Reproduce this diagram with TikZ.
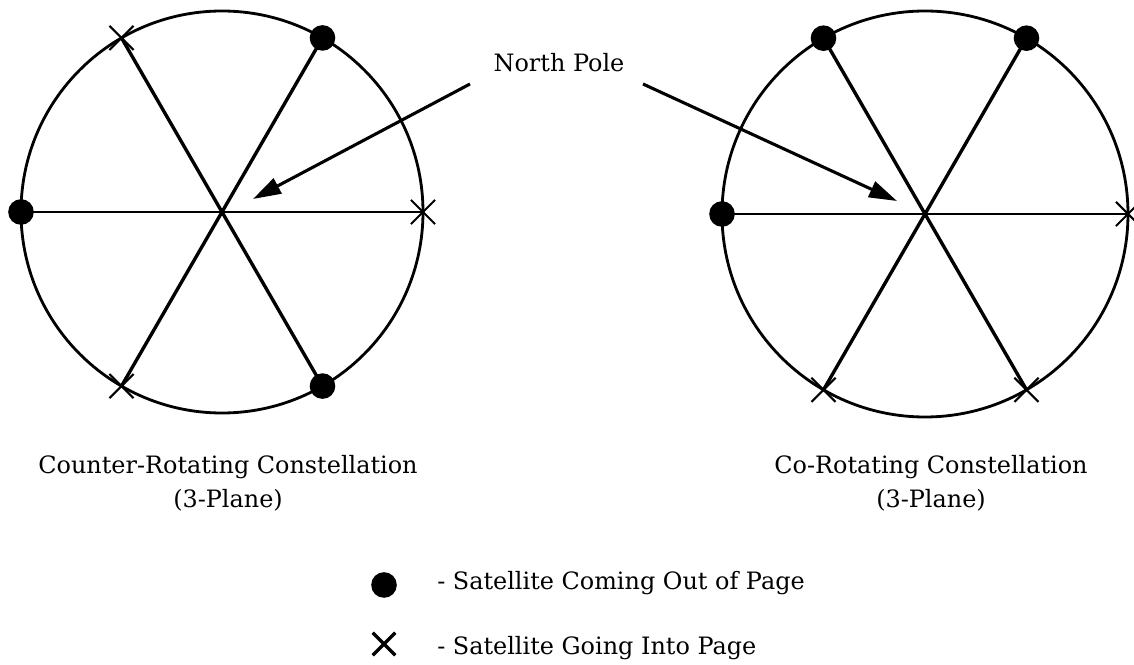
\documentclass[tikz,border=0pt]{standalone}
\usepackage{fontspec}
\setmainfont{DejaVu Serif}
\usetikzlibrary{shapes.misc,arrows.meta}

\tikzset{
	sat/.style={circle,fill=black,inner sep=0pt,minimum size=0.64cm},
	crs/.style={cross out,draw=black,line width=1.5pt,inner sep=0pt,minimum size=0.55cm},
	orbit/.style={line width=2pt},
	spoke/.style={line width=2.4pt},
	pole/.style={line width=2.2pt,-{Triangle[length=0.7cm,width=0.42cm]}},
	lbl/.style={inner sep=0pt,font=\fontsize{17}{24}\selectfont,align=center}
}

\begin{document}
\begin{tikzpicture}[x=0.025cm,y=0.025cm]
				\useasboundingbox (0,0) rectangle (1134,665);
				
				% centres
				\coordinate (LC) at (222,453);
				\coordinate (RC) at (925,451);
				
				% counter-rotating
				\draw[orbit] (LC) circle (201);
				\path (LC) ++(0:201) coordinate (L0);
				\path (LC) ++(60:201) coordinate (L60);
				\path (LC) ++(120:201) coordinate (L120);
				\path (LC) ++(180:201) coordinate (L180);
				\path (LC) ++(240:201) coordinate (L240);
				\path (LC) ++(300:201) coordinate (L300);
				\draw[line width=1.5pt] (L180) -- (L0);
				\draw[spoke] (L60) -- (L240);
				\draw[spoke] (L120) -- (L300);
				\path (L0) node[crs] (l0) {};
				\path (L60) node[sat] (l60) {};
				\path (L120) node[crs] (l120) {};
				\path (L180) node[sat] (l180) {};
				\path (L240) node[crs] (l240) {};
				\path (L300) node[sat] (l300) {};
				
				% co-rotating
				\draw[orbit] (RC) circle (203);
				\path (RC) ++(0:203) coordinate (R0);
				\path (RC) ++(60:203) coordinate (R60);
				\path (RC) ++(120:203) coordinate (R120);
				\path (RC) ++(180:203) coordinate (R180);
				\path (RC) ++(240:203) coordinate (R240);
				\path (RC) ++(300:203) coordinate (R300);
				\draw[line width=1.5pt] (R180) -- (R0);
				\draw[spoke] (R60) -- (R240);
				\draw[spoke] (R120) -- (R300);
				\path (R0) node[crs] (r0) {};
				\path (R60) node[sat] (r60) {};
				\path (R120) node[sat] (r120) {};
				\path (R180) node[sat] (r180) {};
				\path (R240) node[crs] (r240) {};
				\path (R300) node[crs] (r300) {};
				
				% north pole
				\path (559,593) node[lbl,anchor=base] (np) {North Pole};
				\coordinate (npL) at (470,581);
				\coordinate (npR) at (643,581);
				\coordinate (tipL) at (253,466);
				\coordinate (tipR) at (897,464);
				\draw[pole] (npL) -- (tipL);
				\draw[pole] (npR) -- (tipR);
				
				% captions
				\path (228,210) node[lbl,anchor=north] (capL) {Counter-Rotating Constellation\\(3-Plane)};
				\path (931,210) node[lbl,anchor=north] (capR) {Co-Rotating Constellation\\(3-Plane)};
				
				% legend
				\path (384,80) node[sat] (key1) {};
				\path (384,21) node[crs,line width=2.4pt,minimum size=0.48cm] (key2) {};
				\path (437,75) node[lbl,anchor=base west] (txt1) {- Satellite Coming Out of Page};
				\path (437,10) node[lbl,anchor=base west] (txt2) {- Satellite Going Into Page};
\end{tikzpicture}
\end{document}
